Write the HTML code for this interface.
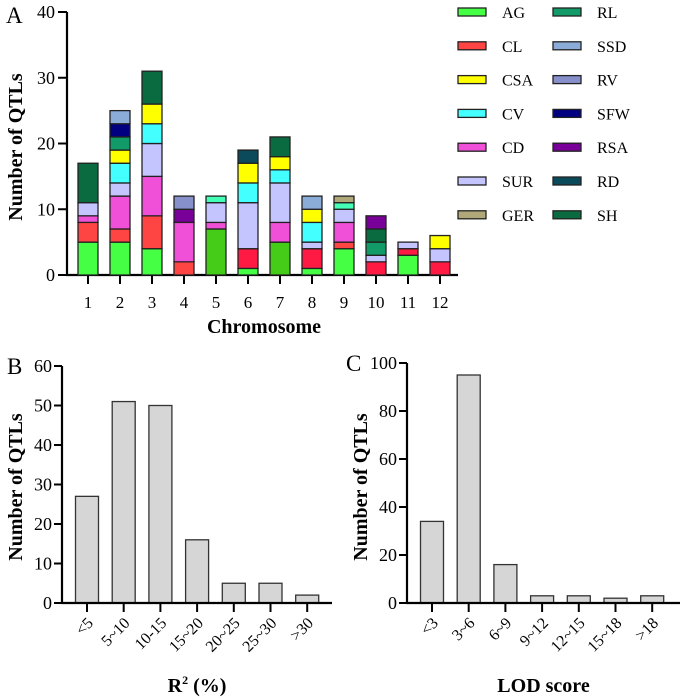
<!DOCTYPE html>
<html><head><meta charset="utf-8"><style>
html,body{margin:0;padding:0;background:#fff}
svg{display:block;font-family:"Liberation Serif",serif}
</style></head><body>
<svg id="fig" width="685" height="699" viewBox="0 0 685 699" xmlns="http://www.w3.org/2000/svg">
<g id="pa"></g>
<g id="pb"></g>
<g id="pc"></g>
</svg>
<script>
const chromosomes = ["1","2","3","4","5","6","7","8","9","10","11","12"];
const traits = ["AG","CL","CSA","CV","CD","SUR","GER","RL","SSD","RV","SFW","RSA","RD","SH"];
const traitColors = ["#44ff44","#ff4444","#ffff00","#44ffff","#f050d8","#c4c4ff","#b0a878","#129a68","#8cacd8","#8890cc","#000080","#780098","#0a4a5a","#0a6a40"];
// stacked segments bottom->top: [trait, count, optional colour]
const chrSegments = [
 [["AG",5],["CL",3],["CD",1],["SUR",2],["SH",6]],
 [["AG",5],["CL",2],["CD",5],["SUR",2],["CV",3],["CSA",2],["RL",2],["SFW",2],["SSD",2]],
 [["AG",4],["CL",5],["CD",6],["SUR",5],["CV",3],["CSA",3],["SH",5]],
 [["CL",2],["CD",6],["RSA",2],["RV",2]],
 [["AG",7,"#44cc18"],["CD",1],["SUR",3],["CV",1,"#44ffb8"]],
 [["AG",1],["CL",3,"#ff1a44"],["SUR",7],["CV",3],["CSA",3],["RD",2]],
 [["AG",5,"#44cc18"],["CD",3],["SUR",6],["CV",2],["CSA",2],["SH",3]],
 [["AG",1],["CL",3,"#ff1a44"],["SUR",1],["CV",3],["CSA",2],["SSD",2]],
 [["AG",4],["CL",1],["CD",3],["SUR",2],["CV",1,"#44ffb8"],["GER",1]],
 [["CL",2,"#ff1a44"],["SUR",1],["RL",2],["SH",2],["RSA",2]],
 [["AG",3],["CL",1,"#ff1a44"],["SUR",1]],
 [["CL",2,"#ff1a44"],["SUR",2],["CSA",2]]
];
const aTicks = [0,10,20,30,40];
const r2Cats = ["<5","5~10","10-15","15~20","20~25","25~30",">30"];
const r2Vals = [27,51,50,16,5,5,2];
const r2Ticks = [0,10,20,30,40,50,60];
const lodCats = ["<3","3~6","6~9","9~12","12~15","15~18",">18"];
const lodVals = [34,95,16,3,3,2,3];
const lodTicks = [0,20,40,60,80,100];

const NS="http://www.w3.org/2000/svg";
function mk(p,tag,at,txt){const e=document.createElementNS(NS,tag);for(const k in at)e.setAttribute(k,at[k]);if(txt!==undefined)e.textContent=txt;p.appendChild(e);return e;}

// Panel A
(function(){
 const g=document.getElementById('pa');
 const x0=67,xEnd=458,y0=275,yTop=12,max=40;
 const y=v=>y0-(y0-yTop)*v/max;
 const xc=i=>88+32*i;
 const bw=20;
 let t=mk(g,'text',{x:6,y:23,'font-size':23},'A');
 
 let l=mk(g,'line',{x1:x0,y1:yTop,x2:x0,y2:y0+1,stroke:'#000','stroke-width':2.2});
 
 l=mk(g,'line',{x1:x0-1,y1:y0,x2:xEnd,y2:y0,stroke:'#000','stroke-width':2.2});
 
 aTicks.forEach(v=>{
  mk(g,'line',{x1:x0-9,y1:y(v),x2:x0,y2:y(v),stroke:'#000','stroke-width':2});
  const tt=mk(g,'text',{x:x0-12,y:y(v)+6,'font-size':18,'text-anchor':'end'},String(v));
  
 });
 chromosomes.forEach((c,i)=>{
  mk(g,'line',{x1:xc(i),y1:y0,x2:xc(i),y2:y0+9,stroke:'#000','stroke-width':2});
  const tt=mk(g,'text',{x:xc(i),y:y0+33,'font-size':17,'text-anchor':'middle'},c);
  
  let acc=0;
  chrSegments[i].forEach(s=>{
   const col=s[2]||traitColors[traits.indexOf(s[0])];
   const r=mk(g,'rect',{x:xc(i)-bw/2,y:y(acc+s[1]),width:bw,height:y(acc)-y(acc+s[1]),fill:col,stroke:'#222','stroke-width':1.3});
   
   
   acc+=s[1];
  });
 });
 t=mk(g,'text',{x:264,y:333,'font-size':20,'font-weight':'bold','text-anchor':'middle'},'Chromosome');
 
 t=mk(g,'text',{transform:'translate(22,147) rotate(-90)','font-size':20,'font-weight':'bold','text-anchor':'middle'},'Number of QTLs');
 
 traits.forEach((tr,i)=>{
  const col=Math.floor(i/7),row=i%7;
  const sx=col?553:458, sy=12+row*33.8;
  const r=mk(g,'rect',{x:sx,y:sy-4,width:28,height:8,fill:traitColors[i],stroke:'#222','stroke-width':1.3});
  
  const tt=mk(g,'text',{x:sx+44,y:sy+6,'font-size':16},tr);
  
 });
})();

function hist(id,x0,xEnd,cx0,max,yTop,cats,vals,ticks,title,letter,ytx,sup,lx){
 const g=document.getElementById(id);
 const y0=603,y=v=>y0-(y0-yTop)*v/max,xc=i=>cx0+36.7*i,bw=23;
 let t=mk(g,'text',{x:lx,y:yTop+8,'font-size':23},letter);
 
 vals.forEach((v,i)=>{
  const r=mk(g,'rect',{x:xc(i)-bw/2,y:y(v),width:bw,height:y0-y(v),fill:'#d6d6d6',stroke:'#333','stroke-width':1.3});
  
 });
 let l=mk(g,'line',{x1:x0,y1:yTop,x2:x0,y2:y0+1,stroke:'#000','stroke-width':2.2});
 
 l=mk(g,'line',{x1:x0-1,y1:y0,x2:xEnd,y2:y0,stroke:'#000','stroke-width':2.2});
 
 ticks.forEach(v=>{
  mk(g,'line',{x1:x0-8,y1:y(v),x2:x0,y2:y(v),stroke:'#000','stroke-width':2});
  const tt=mk(g,'text',{x:x0-10,y:y(v)+6,'font-size':18,'text-anchor':'end'},String(v));
  
 });
 cats.forEach((c,i)=>{
  mk(g,'line',{x1:xc(i),y1:y0,x2:xc(i),y2:y0+9,stroke:'#000','stroke-width':2});
  const tt=mk(g,'text',{transform:'translate('+(xc(i)+7)+','+(y0+21)+') rotate(-45)','font-size':16,'text-anchor':'end'},c);
  
 });
 t=mk(g,'text',{x:(x0+xEnd)/2,y:692,'font-size':20,'font-weight':'bold','text-anchor':'middle'});
 if(sup){mk(t,'tspan',{},'R');mk(t,'tspan',{'font-size':12,dy:-8},'2');mk(t,'tspan',{dy:8},' (%)');}
 else t.textContent=title;
 
 t=mk(g,'text',{transform:'translate('+ytx+',487) rotate(-90)','font-size':20,'font-weight':'bold','text-anchor':'middle'},'Number of QTLs');
 
}
hist('pb',62,332,87,60,366,r2Cats,r2Vals,r2Ticks,'R2 (%)','B',22,true,7);
hist('pc',407,680,432,100,363,lodCats,lodVals,lodTicks,'LOD score','C',367,false,346);
</script>
</body></html>
